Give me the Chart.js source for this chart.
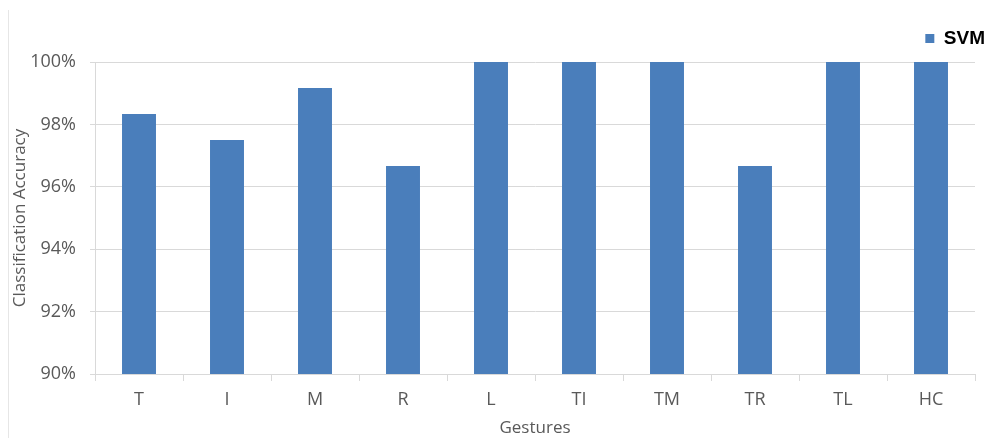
<!DOCTYPE html>
<html>
<head>
<meta charset="utf-8">
<script src="https://cdn.jsdelivr.net/npm/chart.js@4.4.1/dist/chart.umd.min.js"></script>
<style>
  html, body { margin: 0; padding: 0; background: #fff; }
  #wrap { width: 992px; height: 438px; position: relative; }
</style>
</head>
<body>
<div id="wrap"><canvas id="c" width="992" height="438"></canvas></div>
<script>
// Gesture classes and SVM classification accuracy (%)
const gestures = ['T', 'I', 'M', 'R', 'L', 'TI', 'TM', 'TR', 'TL', 'HC'];
const svmAccuracy = [98.33, 97.5, 99.17, 96.67, 100, 100, 100, 96.67, 100, 100];
const yTicks = [90, 92, 94, 96, 98, 100];

const textGray = '#595959';
const gridGray = '#d9d9d9';
const uiFont = "'Open Sans', 'Noto Sans', sans-serif";

// faint vertical rule along the left edge of the figure
const leftRule = {
  id: 'leftRule',
  beforeDraw(chart) {
    const ctx = chart.ctx;
    ctx.save();
    ctx.strokeStyle = '#e6e6e6';
    ctx.lineWidth = 1;
    ctx.beginPath();
    ctx.moveTo(8.5, 10);
    ctx.lineTo(8.5, 438);
    ctx.stroke();
    ctx.restore();
  }
};

new Chart(document.getElementById('c'), {
  type: 'bar',
  data: {
    labels: gestures,
    datasets: [{
      label: 'SVM',
      data: svmAccuracy,
      backgroundColor: '#4A7EBB',
      borderWidth: 0,
      barPercentage: 0.386,
      categoryPercentage: 1.0
    }]
  },
  plugins: [leftRule],
  options: {
    responsive: false,
    animation: false,
    devicePixelRatio: 1,
    layout: { padding: { left: 10, right: -10, top: 12, bottom: 0 } },
    plugins: {
      tooltip: { enabled: false },
      // blank spacer between the legend and the plot area
      title: {
        display: true,
        text: ' ',
        weight: 500,
        font: { size: 1, lineHeight: 1 },
        padding: { top: 0, bottom: 3 }
      },
      legend: {
        position: 'top',
        align: 'end',
        labels: {
          boxWidth: 9,
          boxHeight: 9,
          padding: 17,
          color: '#000',
          font: { family: "'Liberation Sans', Arial, sans-serif", size: 19, weight: 'bold' }
        }
      }
    },
    scales: {
      x: {
        offset: true,
        grid: {
          offset: true,
          drawOnChartArea: false,
          drawTicks: true,
          tickLength: 7,
          color: gridGray
        },
        border: { display: true, color: gridGray },
        ticks: {
          color: textGray,
          padding: 8,
          font: { family: uiFont, size: 18 }
        },
        title: {
          display: true,
          text: 'Gestures',
          color: textGray,
          padding: { top: 0, bottom: 0 },
          font: { family: uiFont, size: 17 }
        },
        afterFit(scale) { scale.height = 64; }
      },
      y: {
        min: 90,
        max: 100,
        afterBuildTicks(scale) { scale.ticks = yTicks.map(v => ({ value: v })); },
        grid: {
          color: gridGray,
          drawTicks: true,
          tickLength: 5
        },
        border: { display: true, color: gridGray },
        ticks: {
          color: textGray,
          padding: 14,
          font: { family: uiFont, size: 18 },
          callback: v => v + '%'
        },
        title: {
          display: true,
          text: 'Classification Accuracy',
          color: textGray,
          padding: { top: 0, bottom: 0 },
          font: { family: uiFont, size: 17 }
        },
        afterFit(scale) { scale.width = 85; }
      },
      // empty right-hand margin so the plot ends before the legend's right edge
      yRight: {
        position: 'right',
        display: true,
        min: 90,
        max: 100,
        grid: { display: false, drawTicks: false },
        border: { display: false },
        ticks: { display: false },
        afterFit(scale) { scale.width = 27; }
      }
    }
  }
});
</script>
</body>
</html>
